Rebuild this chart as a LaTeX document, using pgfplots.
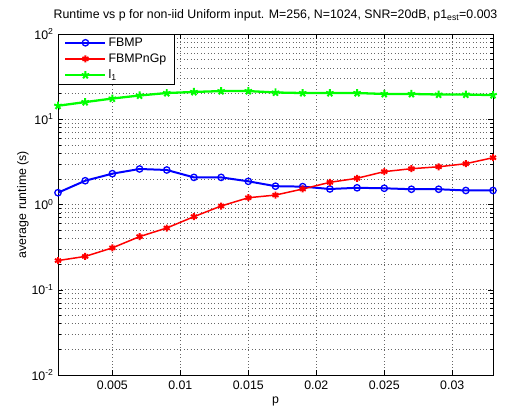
\documentclass[border=0pt]{standalone}
\usepackage{fontspec}
\setmainfont{Liberation Sans}
\usepackage{pgfplots}
\pgfplotsset{compat=1.18}
\begin{document}
\begin{tikzpicture}
\useasboundingbox (0,0) rectangle (511bp,412bp);
\begin{axis}[
  at={(58bp,37bp)}, anchor=south west,
  scale only axis, width=435bp, height=341bp,
  ymode=log,
  xmin=0.001, xmax=0.033, ymin=0.01, ymax=100,
  xtick={0.005,0.01,0.015,0.02,0.025,0.03},
  xticklabels={0.005,0.01,0.015,0.02,0.025,0.03},
  scaled x ticks=false,
  ytick={0.01,0.1,1,10,100},
  yticklabels={10\textsuperscript{-2},10\textsuperscript{-1},10\textsuperscript{0},10\textsuperscript{1},10\textsuperscript{2}},
  tick align=inside,
  major tick length=5bp, minor tick length=3bp,
  every tick/.style={black, line width=0.5pt},
  xmajorgrids, ymajorgrids, yminorgrids,
  grid style={black!60, line width=0.6pt, dash pattern=on 0.8bp off 2.6bp},
  minor grid style={black!60, line width=0.6pt, dash pattern=on 0.8bp off 2.6bp},
  axis line style={black, line width=0.6pt},
  tick label style={font=\fontsize{12.4}{14}\selectfont},
  xticklabel style={yshift=-2bp},
  yticklabel style={xshift=-1bp},
  label style={font=\fontsize{12.4}{14}\selectfont},
  title style={font=\fontsize{12.4}{14}\selectfont, at={(0.5,1)}, yshift=3bp},
  title={Runtime vs p for non-iid Uniform input. M=256, N=1024, SNR=20dB, p1\textsubscript{est}=0.003},
  xlabel={p},
  ylabel={average runtime (s)},
  xlabel style={yshift=-1bp},
  ylabel style={yshift=-4bp},
  legend style={at={(0,1)}, anchor=north west, font=\fontsize{12.4}{14}\selectfont,
    draw=black, line width=0.6pt, fill=white, inner xsep=6bp, inner ysep=1.5bp,
    row sep=2bp, nodes={inner sep=2bp}},
  legend cell align=left,
  legend image code/.code={
    \draw[#1] (0bp,0bp) -- (40bp,0bp);
    \draw[#1, only marks] plot coordinates {(20bp,0bp)};
  },
]
\addplot[blue, line width=2pt, mark=o, mark size=3.2bp, mark options={line width=1.3pt, fill=none}] coordinates {
(0.001,1.375) (0.003,1.90) (0.005,2.30) (0.007,2.61) (0.009,2.54) (0.011,2.08)
(0.013,2.08) (0.015,1.87) (0.017,1.64) (0.019,1.62) (0.021,1.52) (0.023,1.57)
(0.025,1.55) (0.027,1.51) (0.029,1.51) (0.031,1.46) (0.033,1.46)};
\addlegendentry{FBMP}
\addplot[red, line width=1.5pt, mark=asterisk, mark size=3.5bp, mark options={line width=1.9pt}] coordinates {
(0.001,0.22) (0.003,0.246) (0.005,0.31) (0.007,0.42) (0.009,0.53) (0.011,0.72)
(0.013,0.96) (0.015,1.20) (0.017,1.29) (0.019,1.52) (0.021,1.82) (0.023,2.03)
(0.025,2.43) (0.027,2.63) (0.029,2.77) (0.031,3.01) (0.033,3.54)};
\addlegendentry{FBMPnGp}
\addplot[green, line width=2.3pt, mark=star, mark size=4bp, mark options={line width=2pt}] coordinates {
(0.001,14.4) (0.003,15.9) (0.005,17.5) (0.007,19.0) (0.009,20.3) (0.011,20.9)
(0.013,21.4) (0.015,21.4) (0.017,20.6) (0.019,20.3) (0.021,20.3) (0.023,20.3)
(0.025,19.8) (0.027,19.8) (0.029,19.5) (0.031,19.5) (0.033,19.2)};
\addlegendentry{l\textsubscript{1}}
\end{axis}
\end{tikzpicture}
\end{document}
